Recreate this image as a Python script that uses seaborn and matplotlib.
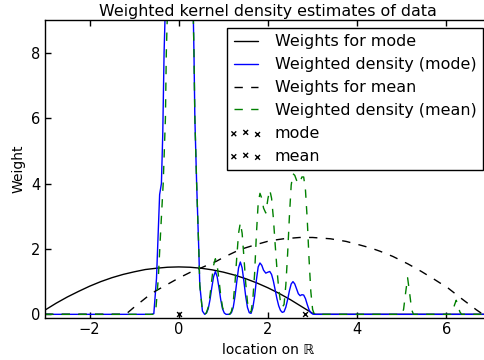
import numpy as np
import pandas as pd
import seaborn as sns
import matplotlib
matplotlib.use("Agg")
import matplotlib.pyplot as plt
from matplotlib.collections import PathCollection
from matplotlib.legend_handler import HandlerPathCollection

# readings from the picture
w_mode_x = [-3.0, -2.75, -2.5, -2.25, -2.0, -1.75, -1.5, -1.25, -1.0, -0.75, -0.5, -0.25, 0.0,
            0.25, 0.5, 0.75, 1.0, 1.25, 1.5, 1.75, 2.0, 2.25, 2.5, 2.75, 3.0, 3.07, 7.0]
w_mode_y = [0.13, 0.34, 0.53, 0.70, 0.86, 1.00, 1.12, 1.22, 1.30, 1.37, 1.41, 1.44, 1.45,
            1.44, 1.41, 1.36, 1.29, 1.20, 1.09, 0.96, 0.81, 0.64, 0.45, 0.24, 0.03, 0.0, 0.0]

w_mean_x = [-3.0, -1.19, -1.0, -0.65, -0.5, -0.25, 0.0, 0.25, 0.5, 0.84, 1.0, 1.37, 1.7, 2.04,
            2.35, 2.71, 3.0, 3.4, 3.75, 4.06, 4.3, 4.51, 4.8, 5.14, 5.44, 5.74, 6.04, 6.34,
            6.67, 6.82, 7.0]
w_mean_y = [0.0, 0.0, 0.22, 0.6, 0.73, 0.92, 1.11, 1.28, 1.42, 1.62, 1.74, 1.98, 2.12, 2.25,
            2.31, 2.35, 2.35, 2.31, 2.23, 2.12, 2.03, 1.93, 1.77, 1.54, 1.31, 1.06, 0.80, 0.48,
            0.14, 0.0, 0.0]

dens_mode_x = [-3.0, -0.62, -0.56, -0.50, -0.43, -0.39, -0.36, -0.33, -0.30, -0.2, 0.0, 0.2,
               0.32, 0.34, 0.36, 0.40, 0.45, 0.47, 0.53, 0.58,
               0.62, 0.66, 0.70, 0.74, 0.78, 0.82, 0.86, 0.90, 0.94, 0.98, 1.02, 1.06,
               1.14, 1.18, 1.22, 1.26, 1.30, 1.34, 1.38, 1.42, 1.46, 1.50, 1.54, 1.58,
               1.62, 1.66, 1.70, 1.74, 1.78, 1.82, 1.86, 1.90, 1.95, 2.00, 2.04, 2.08,
               2.12, 2.16, 2.20, 2.24, 2.28, 2.32, 2.36, 2.40, 2.44, 2.48, 2.52, 2.56,
               2.60, 2.64, 2.68, 2.72, 2.76, 2.80, 2.84, 2.88, 2.92, 2.96, 3.00, 3.04, 7.0]
dens_mode_y = [0.0, 0.0, 0.02, 1.1, 3.66, 4.0, 5.5, 8.0, 9.5, 11.5, 12.5, 11.5,
               9.5, 8.0, 6.0, 4.0, 1.9, 0.9, 0.1, 0.0,
               0.04, 0.17, 0.45, 0.82, 1.15, 1.31, 1.15, 0.82, 0.45, 0.17, 0.04, 0.0,
               0.0, 0.05, 0.21, 0.55, 1.0, 1.42, 1.6, 1.42, 1.0, 0.55, 0.21, 0.05,
               0.03, 0.2, 0.55, 1.05, 1.45, 1.57, 1.5, 1.35, 1.26, 1.29, 1.31, 1.22,
               1.02, 0.75, 0.48, 0.26, 0.12, 0.06, 0.08, 0.22, 0.45, 0.72, 0.93, 1.0,
               0.93, 0.78, 0.63, 0.57, 0.6, 0.59, 0.48, 0.3, 0.14, 0.05, 0.01, 0.0, 0.0]

dens_mean_x = [-3.0, -0.56, -0.52, -0.46, -0.41, -0.35, -0.30, -0.28, -0.25, -0.15, 0.0, 0.2,
               0.32, 0.34, 0.36, 0.40, 0.45, 0.47, 0.53, 0.58,
               0.62, 0.66, 0.70, 0.74, 0.78, 0.82, 0.86, 0.90, 0.94, 0.98, 1.02, 1.06,
               1.14, 1.18, 1.22, 1.26, 1.30, 1.34, 1.38, 1.42, 1.46, 1.50, 1.54, 1.58,
               1.62, 1.66, 1.70, 1.74, 1.78, 1.82, 1.86, 1.90, 1.95, 2.00, 2.04, 2.08,
               2.12, 2.16, 2.20, 2.24, 2.28, 2.32, 2.36, 2.40, 2.44, 2.48, 2.52, 2.56,
               2.60, 2.64, 2.68, 2.72, 2.76, 2.80, 2.84, 2.88, 2.92, 2.96, 3.00, 3.04,
               5.00, 5.04, 5.08, 5.13, 5.18, 5.22, 5.26,
               6.10, 6.14, 6.18, 6.22, 6.26, 6.30, 6.34, 7.0]
dens_mean_y = [0.0, 0.0, 0.05, 1.1, 2.45, 4.0, 6.0, 8.0, 9.5, 11.5, 12.5, 11.5,
               9.5, 8.0, 6.0, 4.0, 1.9, 0.9, 0.1, 0.0,
               0.05, 0.22, 0.58, 1.06, 1.5, 1.7, 1.5, 1.06, 0.58, 0.22, 0.05, 0.0,
               0.0, 0.09, 0.37, 0.96, 1.75, 2.48, 2.8, 2.48, 1.75, 0.96, 0.37, 0.09,
               0.07, 0.45, 1.25, 2.45, 3.4, 3.7, 3.55, 3.25, 3.1, 3.55, 3.8, 3.55,
               2.95, 2.15, 1.4, 0.78, 0.38, 0.22, 0.3, 0.9, 1.85, 3.0, 3.95, 4.3,
               4.25, 4.1, 4.0, 4.05, 4.2, 4.2, 3.8, 2.9, 1.7, 0.7, 0.15, 0.0,
               0.0, 0.15, 0.6, 1.12, 0.6, 0.15, 0.0,
               0.0, 0.08, 0.28, 0.43, 0.28, 0.08, 0.0, 0.0]

mode_loc = [0.0]
mean_loc = [2.83]

sns.set_style("ticks", {"xtick.direction": "in", "ytick.direction": "in",
                        "axes.edgecolor": "black", "xtick.color": "black",
                        "ytick.color": "black", "text.color": "black",
                        "axes.labelcolor": "black"})
plt.rcParams["font.family"] = ["DejaVu Sans"]
plt.rcParams["axes.linewidth"] = 1.0

fig = plt.figure(figsize=(4.85, 3.6), dpi=100)
ax = fig.add_axes([45 / 485, (360 - 317.6) / 360, 446 / 485, 297.6 / 360])

sns.lineplot(x=w_mode_x, y=w_mode_y, ax=ax, color="black", lw=1.0,
             estimator=None, sort=False, label="Weights for mode")
sns.lineplot(x=dens_mode_x, y=dens_mode_y, ax=ax, color="blue", lw=1.0,
             estimator=None, sort=False, label="Weighted density (mode)")
sns.lineplot(x=w_mean_x, y=w_mean_y, ax=ax, color="black", lw=1.0, dashes=False,
             linestyle=(0, (6, 6)), estimator=None, sort=False, label="Weights for mean")
sns.lineplot(x=dens_mean_x, y=dens_mean_y, ax=ax, color="green", lw=1.0, dashes=False,
             linestyle=(0, (6, 6)), estimator=None, sort=False, label="Weighted density (mean)")
sns.scatterplot(x=mode_loc, y=[0] * len(mode_loc), ax=ax, marker="x", color="black",
                s=12, linewidth=1.0, label="mode")
sns.scatterplot(x=mean_loc, y=[0] * len(mean_loc), ax=ax, marker="x", color="black",
                s=12, linewidth=1.0, label="mean")

ax.set_xlim(-3, 7)
ax.set_ylim(-0.1, 9)
ax.set_xticks([-2, 0, 2, 4, 6])
ax.set_yticks([0, 2, 4, 6, 8])
ax.tick_params(top=True, right=True, length=4, width=1, labelsize=10.5)
ax.set_title("Weighted kernel density estimates of data", fontsize=11.4, pad=3)
ax.set_xlabel("location on ℝ", fontsize=10)
ax.set_ylabel("Weight", fontsize=10)

leg = ax.legend(loc="upper right", fancybox=False, shadow=False, framealpha=1,
                edgecolor="black", fontsize=11.4, scatterpoints=3,
                scatteryoffsets=[0.375, 0.5, 0.3125], handlelength=1.5,
                handletextpad=1.1, labelspacing=0.5, borderaxespad=0.5,
                handler_map={PathCollection: HandlerPathCollection(marker_pad=0)})
leg.get_frame().set_linewidth(1.0)

fig.savefig("out.png", dpi=100)
